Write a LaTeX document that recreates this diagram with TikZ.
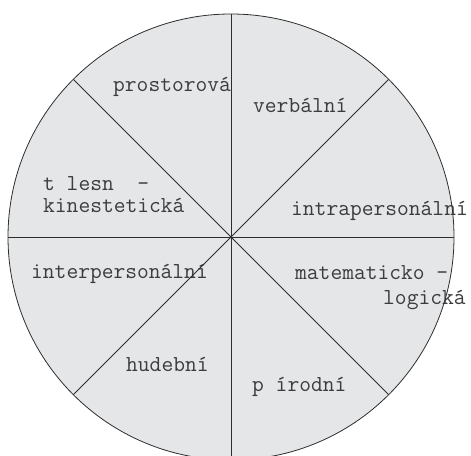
\documentclass[tikz,border=0pt]{standalone}
\usepackage{fontspec}
\usetikzlibrary{calc}
\definecolor{fillgray}{RGB}{229,230,232}
\definecolor{linegray}{RGB}{45,45,45}
\definecolor{textgray}{RGB}{60,60,60}
\begin{document}
\begin{tikzpicture}[x=1pt,y=1pt,
  lab/.style={anchor=base west,inner sep=0pt,text=textgray,font=\ttfamily\fontsize{22.86}{26}\selectfont},
  divider/.style={draw=linegray,line width=0.8pt}]
\useasboundingbox (0,0) rectangle (471,455);
\coordinate (c) at (231,218);
\fill[fillgray] (c) circle (223);
\foreach \a in {0,45,...,315} {\coordinate (e\a) at ($(c)+(\a:223)$);}
\node[lab] (n1) at (113,363) {prostorová};
\node[lab] (n2) at (253,342.5) {verbální};
\node[lab] (n3) at (43,264.5) {t\ lesn\ \ -};
\node[lab] (n3b) at (43,242) {kinestetická};
\node[lab] (n4) at (291,239) {intrapersonální};
\node[lab] (n5) at (31,176) {interpersonální};
\node[lab] (n6) at (295,175) {matematicko -};
\node[lab] (n6b) at (383,150) {logická};
\node[lab] (n7) at (126,83.5) {hudební};
\node[lab] (n8) at (252,63.5) {p írodní};
\draw[divider] (c) circle (223);
\foreach \a in {0,45,...,315} {\draw[divider] (c) -- (e\a);}
\end{tikzpicture}
\end{document}
